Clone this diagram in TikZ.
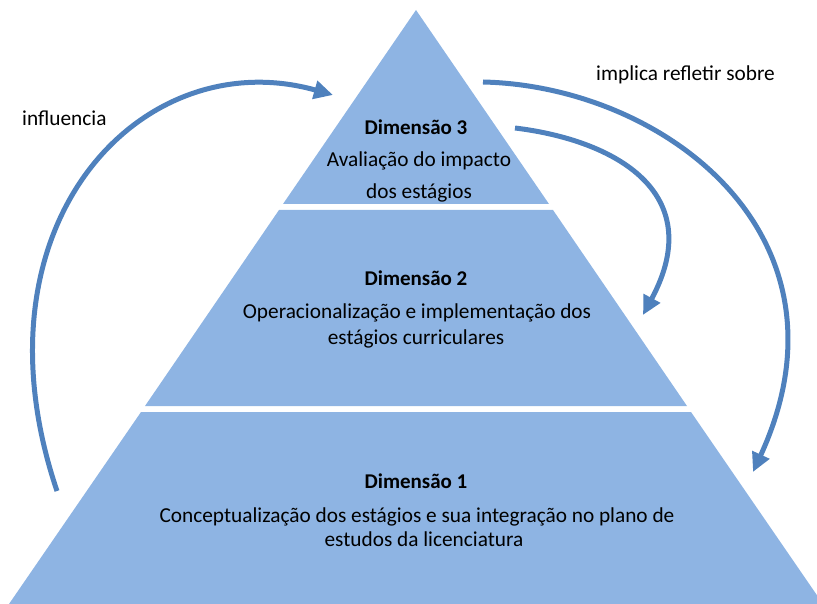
\documentclass[tikz,border=0pt]{standalone}
\usepackage{fontspec}
\setmainfont{Carlito}
\usetikzlibrary{arrows.meta}
\definecolor{fillblue}{HTML}{8EB4E3}
\definecolor{arrowblue}{HTML}{4F81BD}
\begin{document}
\begin{tikzpicture}[x=1pt,y=-1pt,
  band/.style={fill=fillblue, draw=none},
  txt/.style={anchor=base, inner sep=0pt, font=\fontsize{21.3}{25}\selectfont},
  ttl/.style={txt, font=\fontsize{21}{25}\selectfont\bfseries},
  flow/.style={draw=arrowblue, line width=5pt, -{Triangle[length=19pt,width=18pt]}}]
\useasboundingbox (0,0) rectangle (817,604);
\clip (0,0) rectangle (817,604);
% pyramid bands
\fill[band] (416,10) -- (549,204) -- (283,204) -- cycle;
\fill[band] (279,210) -- (553,210) -- (687,406) -- (145,406) -- cycle;
\fill[band] (141,412) -- (691,412) -- (823,604) -- (9,604) -- cycle;
% texts
\node[ttl] (d3t) at (416,135) {Dimensão 3};
\node[txt] (d3a) at (419,167) {Avaliação do impacto};
\node[txt] (d3b) at (419,199) {dos estágios};
\node[ttl] (d2t) at (416,286) {Dimensão 2};
\node[txt] (d2a) at (417,319) {Operacionalização e implementação dos};
\node[txt] (d2b) at (416,344) {estágios curriculares};
\node[ttl] (d1t) at (416,488) {Dimensão 1};
\node[txt] (d1a) at (417,522) {Conceptualização dos estágios e sua integração no plano de};
\node[txt] (d1b) at (424,546) {estudos da licenciatura};
\node[txt, anchor=base west] (inf) at (22,126) {influencia};
\node[txt, anchor=base west] (imp) at (596,81) {implica refletir sobre};
% arrow end points
\coordinate (a1s) at (57,491);
\coordinate (a1e) at (333,95);
\coordinate (a2s) at (515,128);
\coordinate (a2e) at (643,315);
\coordinate (a3s) at (483,82);
\coordinate (a3e) at (753,472);
% arrows
\draw[flow] (a1s) .. controls (-33,225) and (141,41) .. (a1e);
\draw[flow] (a2s) .. controls (614,140) and (709,192) .. (a2e);
\draw[flow] (a3s) .. controls (663,86) and (862,235) .. (a3e);
\end{tikzpicture}
\end{document}
